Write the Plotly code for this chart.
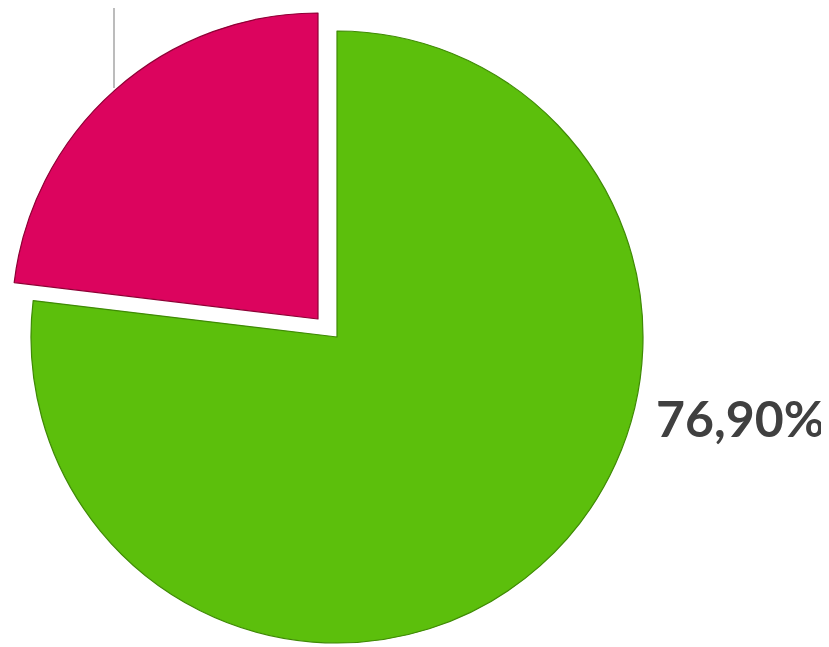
import plotly.graph_objects as go

labels = ["Grupo A", "Grupo B"]
values = [76.90, 23.10]
colors = ["#5cbf0c", "#dc045e"]
edge_colors = ["#3f8a05", "#8e0035"]

# the page body has an 8px margin: the figure starts at (8, 8) of the window
OFF = 8
W, H = 829 - OFF, 647 - OFF

def px(x):
    return (x - OFF) / W

def py(y):
    return 1 - (y - OFF) / H

def dom(cx, cy, r):
    return dict(x=[px(cx - r), px(cx + r)], y=[py(cy + r), py(cy - r)])

fig = go.Figure()
# main (green) slice, red slot transparent
fig.add_trace(go.Pie(
    labels=labels, values=values, sort=False, direction="clockwise", rotation=0,
    marker=dict(colors=[colors[0], "rgba(0,0,0,0)"],
                line=dict(color=[edge_colors[0], "rgba(0,0,0,0)"], width=[1.2, 0])),
    textinfo="none", hoverinfo="label+percent", showlegend=False,
    domain=dom(337, 337, 306),
))
# exploded (red) slice, same radius, shifted centre
fig.add_trace(go.Pie(
    labels=labels, values=values, sort=False, direction="clockwise", rotation=0,
    marker=dict(colors=["rgba(0,0,0,0)", colors[1]],
                line=dict(color=["rgba(0,0,0,0)", edge_colors[1]], width=[0, 1.2])),
    textinfo="none", hoverinfo="label+percent", showlegend=False,
    domain=dom(318, 319, 306),
))

label_text = f"{values[0]:.2f}%".replace(".", ",")
fig.add_annotation(
    x=px(740), y=py(418), xref="paper", yref="paper",
    text=label_text, showarrow=False, xanchor="center", yanchor="middle",
    font=dict(family="Lato", size=50, color="#404040", weight="bold"),
)
fig.add_shape(type="line", xref="paper", yref="paper",
              x0=px(114), x1=px(114), y0=py(88), y1=1.02,
              line=dict(color="#a6a6a6", width=1.5))

fig.update_layout(
    width=W, height=H, margin=dict(l=0, r=0, t=0, b=0),
    paper_bgcolor="#ffffff", plot_bgcolor="#ffffff",
)
fig.write_html("out.html")
